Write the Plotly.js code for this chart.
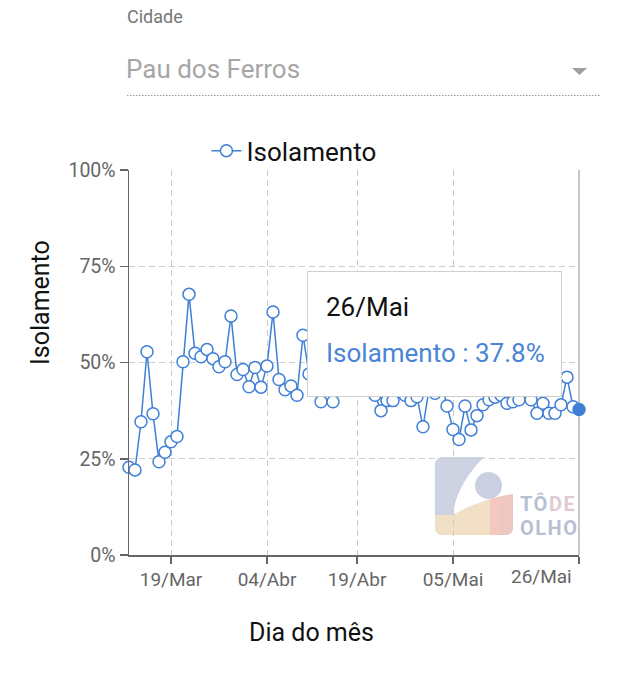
<!DOCTYPE html>
<html>
<head>
<meta charset="utf-8">
<script src="https://cdn.plot.ly/plotly-3.0.1.min.js"></script>
<style>
  html, body { margin:0; padding:0; background:#fff; width:640px; height:689px; overflow:hidden; font-family: Roboto, "Noto Sans", sans-serif; }
  #chart { position:absolute; left:0; top:0; width:640px; height:689px; }
  .lbl { position:absolute; white-space:nowrap; font-family: Roboto, sans-serif; }
  .logo { position:absolute; white-space:nowrap; font-family: Roboto, sans-serif; font-weight:bold; font-size:20px; line-height:24px; height:24px; letter-spacing:1.5px; color:rgba(170,180,205,0.85); }
  #tip { position:absolute; left:307px; top:271px; width:253px; height:124px; background:#fff; border:1.5px solid #cfcfcf; box-sizing:content-box; }
</style>
</head>
<body>
<div id="chart"></div>
<div class="lbl" style="left:127px; top:6px; font-size:18px; color:#767676;">Cidade</div>
<div class="lbl" style="left:126px; top:54px; font-size:26px; color:#a6a6a6;">Pau dos Ferros</div>
<svg style="position:absolute; left:0; top:0;" width="640" height="110">
  <polygon points="572,68 587,68 579.5,75" fill="#9e9e9e"/>
  <line x1="127" y1="95.5" x2="600" y2="95.5" stroke="#9a9a9a" stroke-width="1" stroke-dasharray="1.5,1.5"/>
</svg>
<div class="logo" style="left:520px; top:492px;">TÔ<span style="color:rgba(222,200,208,0.95)">DE</span></div>
<div class="logo" style="left:520px; top:516px;">OLHO</div>
<div id="tip">
  <div class="lbl" style="left:18px; top:20px; font-size:26px; color:#111;">26/Mai</div>
  <div class="lbl" style="left:18px; top:66px; font-size:26px; color:#4a84d6;">Isolamento : 37.8%</div>
</div>
<script>
// ---- data ----
const startDate = '2020-03-12';
const isolamento = [
  22.8, 22.1, 34.6, 52.8, 36.7, 24.2, 26.7, 29.4, 30.8, 50.2,
  67.7, 52.4, 51.5, 53.4, 51.0, 48.9, 50.2, 62.1, 46.9, 48.2,
  43.7, 48.7, 43.6, 49.1, 63.1, 45.6, 42.9, 43.9, 41.5, 57.1,
  47.0, 52.0, 39.8, 44.0, 39.8, 44.0, 45.0, 43.0, 50.0, 44.0,
  43.0, 41.5, 37.5, 40.1, 40.1, 46.0, 41.5, 40.1, 41.1, 33.3,
  43.0, 42.0, 45.0, 38.7, 32.6, 30.0, 38.7, 32.5, 36.2, 39.0,
  40.3, 41.0, 41.5, 39.4, 39.8, 40.3, 43.0, 40.3, 36.8, 39.4,
  36.8, 36.8, 39.0, 46.2, 38.5, 37.8
];
const tickDates = ['2020-03-19', '2020-04-04', '2020-04-19', '2020-05-05', '2020-05-26'];
const tickLabels = ['19/Mar', '04/Abr', '19/Abr', '05/Mai', '26/Mai'];
const yTicks = [0, 25, 50, 75, 100];
const yTickLabels = ['0%', '25%', '50%', '75%', '100%'];

// build date list (one per day)
const dates = [];
{
  const d0 = new Date(startDate + 'T00:00:00Z');
  for (let i = 0; i < isolamento.length; i++) {
    const d = new Date(d0.getTime() + i * 86400000);
    dates.push(d.toISOString().slice(0, 10));
  }
}
const blue = '#3f7fd6';
const fillColors = isolamento.map((v, i) => i === isolamento.length - 1 ? blue : '#ffffff');

const trace = {
  x: dates, y: isolamento, type: 'scatter', mode: 'lines+markers', name: 'Isolamento',
  cliponaxis: false,
  line: { color: blue, width: 1.5 },
  marker: { symbol: 'circle', size: 12, color: fillColors, line: { color: blue, width: 1.5 } },
  hoverinfo: 'skip'
};

function px2x(px) { return (px - 129) / 450; }
function px2y(py) { return (555 - py) / 385; }
function pathPx(p) {
  const toks = p.split(' ');
  const out = [];
  let isX = true;
  for (const t of toks) {
    if (/^[A-Za-z]$/.test(t)) { out.push(t); isX = true; continue; }
    const n = parseFloat(t);
    out.push(isX ? px2x(n).toFixed(5) : px2y(n).toFixed(5));
    isX = !isX;
  }
  return out.join(' ');
}

// faint logo (watermark)
const logoShapes = [
  { type:'path', xref:'paper', yref:'paper', layer:'below', line:{width:0}, fillcolor:'rgba(190,196,218,0.75)',
    path: pathPx('M 443 457 L 484 457 C 466 475 455 495 453 515 C 470 505 495 497 513 494 L 513 527 Q 513 535 505 535 L 443 535 Q 435 535 435 527 L 435 465 Q 435 457 443 457 Z') },
  { type:'path', xref:'paper', yref:'paper', layer:'below', line:{width:0}, fillcolor:'rgba(250,228,190,0.8)',
    path: pathPx('M 435 515 L 453 515 C 470 505 490 499 500 497 L 500 535 L 443 535 Q 435 535 435 527 Z') },
  { type:'path', xref:'paper', yref:'paper', layer:'below', line:{width:0}, fillcolor:'rgba(242,196,186,0.85)',
    path: pathPx('M 490 499 C 498 497 506 495 513 494 L 513 527 Q 513 535 505 535 L 490 535 Z') },
  { type:'circle', xref:'paper', yref:'paper', layer:'below', line:{width:0}, fillcolor:'rgba(190,196,218,0.8)',
    x0: px2x(475), x1: px2x(502), y0: px2y(499), y1: px2y(472) }
];

// last x tick label drawn left of its tick (as in the reference)
const axisTickText = tickLabels.map((t, i) => i === tickLabels.length - 1 ? '' : t);

const layout = {
  width: 640, height: 689,
  margin: { l: 129, r: 61, t: 170, b: 134, pad: 0 },
  paper_bgcolor: '#fff', plot_bgcolor: '#fff',
  font: { family: 'Roboto, sans-serif', size: 19, color: '#666' },
  showlegend: true,
  legend: { orientation: 'h', x: 0.172, xanchor: 'left', y: 1.05, yanchor: 'middle',
            font: { size: 26, color: '#111' }, bgcolor: 'rgba(0,0,0,0)' },
  xaxis: {
    type: 'date', range: [dates[0], dates[dates.length - 1]],
    tickmode: 'array', tickvals: tickDates, ticktext: axisTickText,
    showline: true, linecolor: '#666', linewidth: 1.5,
    ticks: 'outside', ticklen: 7, tickwidth: 1.5, tickcolor: '#666',
    showgrid: true, gridcolor: '#cccccc', gridwidth: 1, griddash: '6px,4px',
    zeroline: false, fixedrange: true,
    tickfont: { size: 19, color: '#666' }
  },
  yaxis: {
    range: [0, 100], tickmode: 'array', tickvals: yTicks, ticktext: yTickLabels,
    showline: true, linecolor: '#666', linewidth: 1.5,
    ticks: 'outside', ticklen: 8, tickwidth: 1.5, tickcolor: '#666',
    showgrid: true, gridcolor: '#cccccc', gridwidth: 1, griddash: '6px,4px',
    zeroline: false, fixedrange: true,
    tickfont: { size: 19.5, color: '#666' }
  },
  shapes: logoShapes.concat([
    { type: 'line', xref: 'paper', yref: 'paper', x0: 1, x1: 1, y0: 0, y1: 1, layer: 'below', line: { color: '#b5b5b5', width: 1.5 } }
  ]),
  annotations: [
    { text: tickLabels[tickLabels.length - 1], xref: 'x', yref: 'paper', x: tickDates[tickDates.length - 1], y: px2y(576),
      showarrow: false, xanchor: 'right', yanchor: 'middle', xshift: -5, font: { size: 19, color: '#666' } },
    { text: 'Isolamento', xref: 'paper', yref: 'paper', x: px2x(40), y: px2y(303), showarrow: false,
      textangle: -90, font: { size: 25, color: '#111' }, xanchor: 'center', yanchor: 'middle' },
    { text: 'Dia do mês', xref: 'paper', yref: 'paper', x: px2x(311), y: px2y(632), showarrow: false,
      font: { size: 25, color: '#111' }, xanchor: 'center', yanchor: 'middle' }
  ]
};

Plotly.newPlot('chart', [trace], layout, { displayModeBar: false, staticPlot: true });
</script>
</body>
</html>
